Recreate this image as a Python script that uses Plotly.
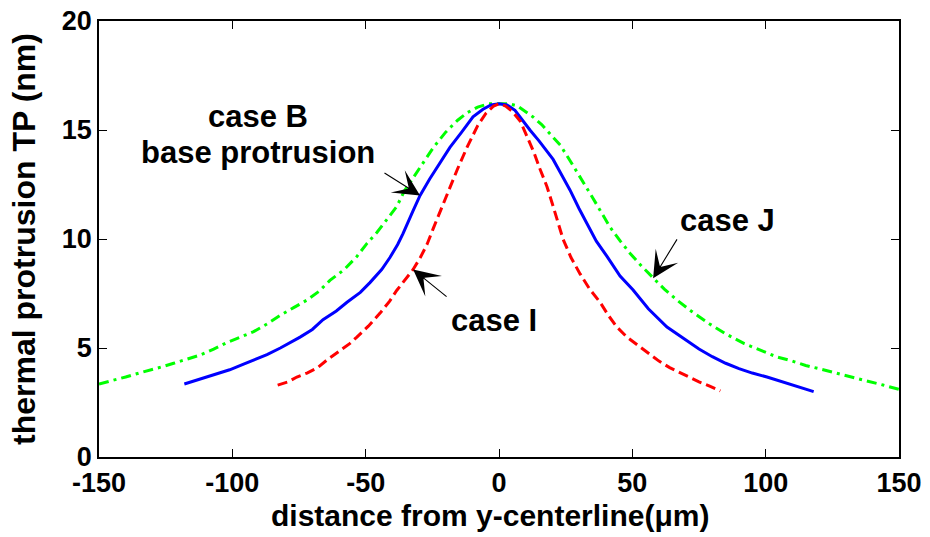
import plotly.graph_objects as go

# Thermal protrusion profiles along the y-centerline
case_b_x = [-118, -114, -110, -105, -101, -96, -92, -87, -82, -78, -74.6, -70, -66, -61,
            -57, -52, -48.4, -44, -40.9, -38, -36, -32.2, -29.6, -26, -22, -18.4,
            -14, -9.75, -6, -3, 0, 3, 6, 9, 11.6, 15, 18, 20.3, 23, 26.6, 30, 33, 36.5,
            40.5, 45.4, 50.3, 56, 63, 70, 75, 80, 85, 90, 95, 100.5, 105, 110, 114, 118]
case_b_y = [3.35, 3.5, 3.65, 3.85, 4.0, 4.25, 4.45, 4.7, 5.0, 5.25, 5.5, 5.85, 6.3, 6.7,
            7.1, 7.55, 8.0, 8.6, 9.15, 9.75, 10.25, 11.3, 12.0, 12.75, 13.5, 14.2,
            14.9, 15.6, 15.95, 16.15, 16.2, 16.15, 15.9, 15.4, 15.0, 14.5, 14.0, 13.65,
            13.05, 12.25, 11.4, 10.7, 9.9, 9.2, 8.3, 7.66, 6.8, 5.96, 5.35, 4.95, 4.6,
            4.3, 4.05, 3.85, 3.67, 3.5, 3.3, 3.15, 3.0]

case_j_x = [-150, -145, -140, -135, -130, -126, -122, -117, -112, -107, -102, -97, -92,
            -87, -82, -77, -72, -67.5, -63.4, -58, -53.3, -49.5, -45.8, -42, -38.3, -35.5,
            -32.2, -28.5, -24.6, -20, -15.5, -11.8, -8, -4, 0, 4, 7, 10, 12.75, 16, 19.1,
            23, 26.6, 30.5, 34.1, 38, 41.6, 45.5, 49.1, 53.5, 57.8, 62, 66.7, 72, 79, 85,
            92, 98, 104, 110, 115, 120, 125, 131, 138, 144, 150]
case_j_y = [3.35, 3.5, 3.67, 3.85, 4.0, 4.15, 4.3, 4.5, 4.68, 4.95, 5.25, 5.5, 5.75,
            6.1, 6.5, 6.85, 7.2, 7.6, 8.1, 8.6, 9.2, 9.8, 10.3, 10.9, 11.5, 12.2, 12.8,
            13.5, 14.2, 14.9, 15.45, 15.8, 16.05, 16.2, 16.2, 16.2, 16.1, 15.85, 15.6,
            15.25, 14.85, 14.3, 13.6, 12.85, 12.1, 11.3, 10.55, 9.9, 9.35, 8.75, 8.2,
            7.7, 7.2, 6.7, 6.1, 5.65, 5.2, 4.9, 4.6, 4.4, 4.2, 4.05, 3.9, 3.7, 3.5, 3.3,
            3.1]

case_i_x = [-83, -79, -75.8, -72, -68, -64.5, -60, -56, -53.3, -49, -44.6, -41, -38.3,
            -35, -32.2, -29.5, -27, -24.6, -22.1, -20, -18, -15.6, -12, -8, -5, -2, 0,
            2.5, 5, 8, 10.5, 13, 15.4, 18, 20.3, 22, 24, 27, 30.4, 34, 37.9, 41, 44.2, 48,
            53, 57, 60, 64, 68, 72, 75, 79, 83]
case_i_y = [3.3, 3.45, 3.67, 3.85, 4.1, 4.45, 4.85, 5.2, 5.5, 6.0, 6.6, 7.15, 7.65, 8.15,
            8.6, 9.15, 9.75, 10.5, 11.25, 11.9, 12.5, 13.2, 14.2, 15.2, 15.75, 16.1, 16.2,
            16.1, 15.85, 15.4, 14.7, 14.0, 13.2, 12.4, 11.5, 10.8, 10.0, 9.15, 8.4, 7.7,
            7.1, 6.5, 5.96, 5.5, 5.05, 4.7, 4.4, 4.1, 3.85, 3.6, 3.45, 3.25, 3.03]

x_ticks = [-150, -100, -50, 0, 50, 100, 150]
y_ticks = [0, 5, 10, 15, 20]

FONT = "Liberation Sans, Arial, Helvetica, sans-serif"

fig = go.Figure()
fig.add_trace(go.Scatter(x=case_j_x, y=case_j_y, mode="lines", name="case J",
                         line=dict(color="#00ff00", width=3, dash="10px,5px,3px,5px")))
fig.add_trace(go.Scatter(x=case_b_x, y=case_b_y, mode="lines", name="case B",
                         line=dict(color="#0000ff", width=3)))
fig.add_trace(go.Scatter(x=case_i_x, y=case_i_y, mode="lines", name="case I",
                         line=dict(color="#ff0000", width=3, dash="10px,5px")))

label_font = dict(family=FONT, size=31, color="black", weight="bold")

# text labels
labels = [
    ("case B", -90.4, 15.6),
    ("base protrusion", -90.4, 13.95),
    ("case J", 85.5, 10.87),
    ("case I", -1.9, 6.28),
]
for text, lx, ly in labels:
    fig.add_annotation(x=lx, y=ly, text=text, showarrow=False, font=label_font,
                       xanchor="center", yanchor="middle")

# pointer arrows: (tip x, tip y, tail x, tail y)
arrows = [
    (-29.6, 12.0, -43.5, 13.07),
    (57.8, 8.2, 67.1, 10.05),
    (-32.2, 8.6, -19.1, 7.3),
]
for tx, ty, sx, sy in arrows:
    fig.add_annotation(x=tx, y=ty, ax=sx, ay=sy, xref="x", yref="y", axref="x", ayref="y",
                       text="", showarrow=True, arrowhead=3, arrowsize=4,
                       arrowwidth=1.1, arrowcolor="black", standoff=0, startstandoff=0)

# x-axis title
fig.add_annotation(x=(490 - 99) / 800, y=-58 / 436, xref="paper", yref="paper",
                   text="distance from y-centerline(μm)", showarrow=False,
                   xanchor="center", yanchor="middle",
                   font=dict(family=FONT, size=30, color="black", weight="bold"))

axis_common = dict(
    showgrid=False, zeroline=False, showline=True, linecolor="black", linewidth=1.5,
    mirror="ticks", ticks="inside", ticklen=8, tickwidth=1, tickcolor="black",
    automargin=False,
    tickfont=dict(family=FONT, size=27, color="black", weight="bold"),
)

fig.update_xaxes(range=[-150, 150], tickvals=x_ticks, ticktext=[str(v) for v in x_ticks],
                 ticklabelstandoff=1, **axis_common)
fig.update_yaxes(range=[0, 20], tickvals=y_ticks, ticktext=[str(v) for v in y_ticks],
                 title=dict(text="thermal protrusion TP (nm)", standoff=17,
                            font=dict(family=FONT, size=32, color="black", weight="bold")),
                 **axis_common)

fig.update_layout(
    width=930, height=537,
    margin=dict(l=99, r=31, t=21, b=80),
    paper_bgcolor="white", plot_bgcolor="white",
    showlegend=False,
)

fig.write_html("out.html")
